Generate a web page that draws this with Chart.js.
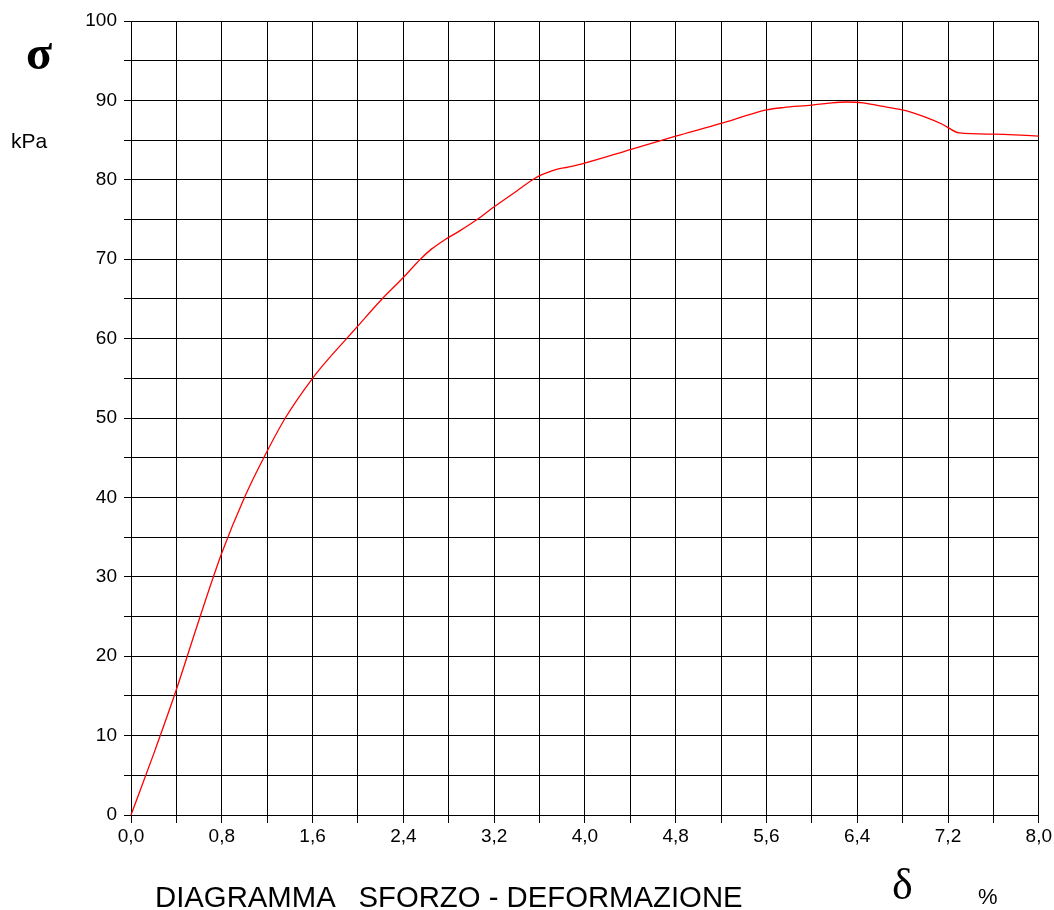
<!DOCTYPE html>
<html>
<head>
<meta charset="utf-8">
<script src="https://cdn.jsdelivr.net/npm/chart.js@4.4.1/dist/chart.umd.min.js"></script>
<style>
  html, body { margin: 0; padding: 0; background: #fff; }
  #wrap { position: relative; width: 1054px; height: 910px; overflow: hidden; }
  #wrap canvas { position: absolute; left: 0; top: 0; }
  .lbl { position: absolute; line-height: 1; white-space: pre; color: #000; }
  .sans { font-family: "Liberation Sans", Arial, sans-serif; }
  .serif { font-family: "Liberation Serif", "Times New Roman", serif; }
</style>
</head>
<body>
<div id="wrap">
  <canvas id="chart" width="1054" height="910"></canvas>
  <span class="lbl serif" style="left:26px; top:29px; font-size:48px; font-weight:bold;">σ</span>
  <span class="lbl sans" style="left:11px; top:130px; font-size:21px;">kPa</span>
  <span class="lbl sans" style="left:155px; top:882px; font-size:29.3px;">DIAGRAMMA   SFORZO - DEFORMAZIONE</span>
  <span class="lbl serif" style="left:892px; top:863px; font-size:44px;">δ</span>
  <span class="lbl sans" style="left:978px; top:886px; font-size:22px;">%</span>
</div>
<script>
// deformazione (%) e sforzo (kPa)
const deformazione = [0, 0.2, 0.4, 0.6, 0.8, 1.0, 1.17, 1.36, 1.6, 1.75, 1.9, 2.0, 2.2, 2.4, 2.55, 2.65, 2.75, 2.9, 3.05, 3.2, 3.4, 3.56, 3.65, 3.75, 3.85, 4.0, 4.4, 4.8, 5.2, 5.45, 5.6, 5.75, 6.0, 6.15, 6.3, 6.45, 6.6, 6.8, 7.0, 7.15, 7.3, 7.6, 8.0, 8.04];
const sforzo = [0, 7.7, 15.8, 24.6, 33, 40, 45, 50, 55, 57.6, 60, 61.6, 64.8, 67.7, 70, 71.3, 72.3, 73.6, 75, 76.6, 78.6, 80.2, 80.8, 81.3, 81.6, 82.1, 83.8, 85.5, 87.1, 88.2, 88.8, 89.1, 89.4, 89.65, 89.8, 89.7, 89.3, 88.8, 87.9, 87.0, 85.9, 85.75, 85.5, 85.45];

const xMin = 0, xMax = 8, xStep = 0.4;
const yMin = 0, yMax = 100, yStep = 5;

const punti = deformazione.map((d, i) => ({ x: d, y: sforzo[i] }));

const fmtX = v => {
  if (Math.round(v / xStep) % 2 !== 0) return '';
  return v.toFixed(1).replace('.', ',');
};
const fmtY = v => (Math.round(v) % 10 === 0 ? String(Math.round(v)) : '');

const ctx = document.getElementById('chart');
const chart = new Chart(ctx, {
  type: 'line',
  data: {
    datasets: [{
      data: punti,
      borderColor: '#ff0000',
      borderWidth: 1.3,
      pointRadius: 0,
      fill: false,
      cubicInterpolationMode: 'monotone',
      clip: false
    }]
  },
  options: {
    responsive: false,
    animation: false,
    devicePixelRatio: 1,
    layout: { padding: { left: 0, right: 14, top: 21, bottom: 0 } },
    plugins: { legend: { display: false }, tooltip: { enabled: false } },
    scales: {
      x: {
        type: 'linear',
        min: xMin, max: xMax,
        afterFit: s => { s.height = 95; },
        border: { color: '#000', width: 1 },
        grid: { color: '#000', lineWidth: 1, tickLength: 8, tickColor: '#000' },
        ticks: {
          stepSize: xStep, autoSkip: false, maxRotation: 0, padding: 2,
          color: '#000', font: { family: '"Liberation Sans", Arial', size: 19 },
          callback: fmtX
        }
      },
      y: {
        type: 'linear',
        min: yMin, max: yMax,
        afterFit: s => { s.width = 131; },
        border: { color: '#000', width: 1 },
        grid: { color: '#000', lineWidth: 1, tickLength: 7, tickColor: '#000' },
        ticks: {
          stepSize: yStep, autoSkip: false, padding: 7,
          color: '#000', font: { family: '"Liberation Sans", Arial', size: 19 },
          callback: fmtY
        }
      }
    }
  }
});
</script>
</body>
</html>
